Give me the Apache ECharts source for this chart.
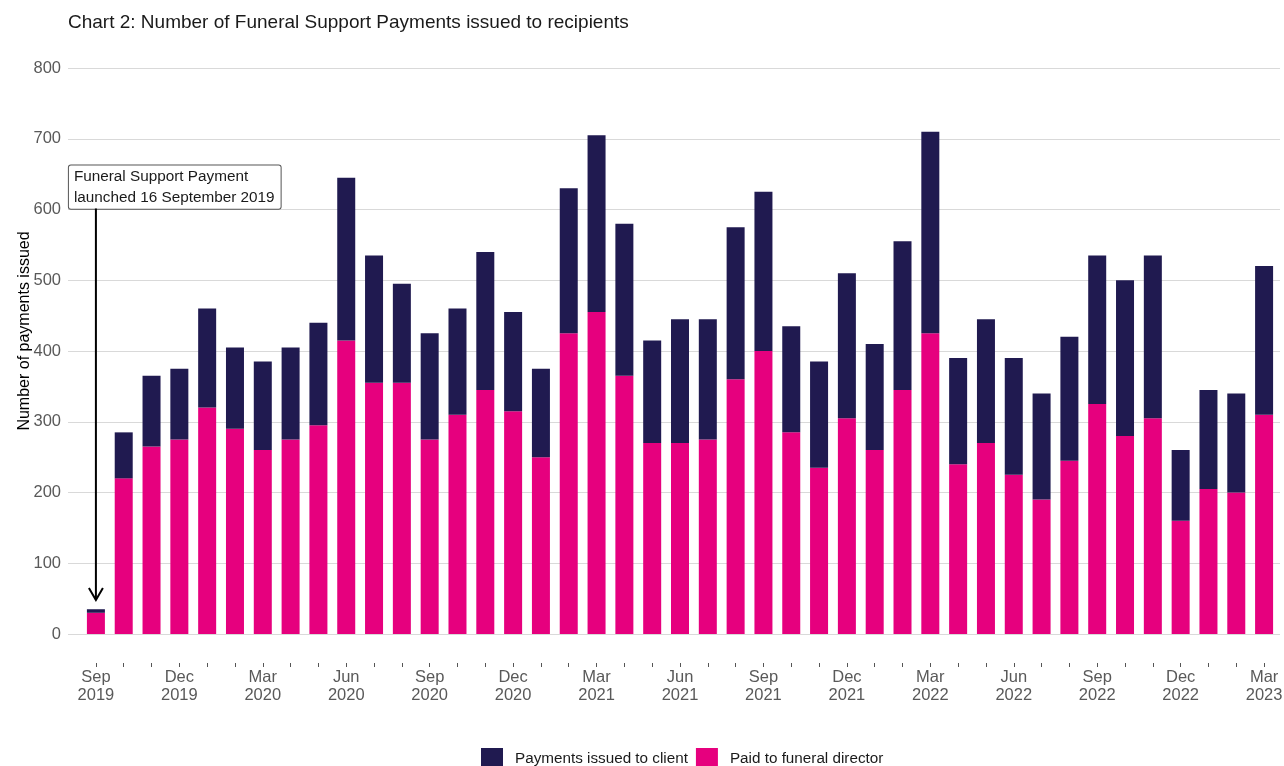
<!DOCTYPE html>
<html>
<head>
<meta charset="utf-8">
<script src="https://cdn.jsdelivr.net/npm/echarts@6/dist/echarts.min.js"></script>
<style>
html,body{margin:0;padding:0;background:#fff;}
#chart{width:1284px;height:766px;}
</style>
</head>
<body>
<div id="chart"></div>
<script>
var months = ['Sep 2019','Oct 2019','Nov 2019','Dec 2019','Jan 2020','Feb 2020','Mar 2020','Apr 2020','May 2020','Jun 2020','Jul 2020','Aug 2020','Sep 2020','Oct 2020','Nov 2020','Dec 2020','Jan 2021','Feb 2021','Mar 2021','Apr 2021','May 2021','Jun 2021','Jul 2021','Aug 2021','Sep 2021','Oct 2021','Nov 2021','Dec 2021','Jan 2022','Feb 2022','Mar 2022','Apr 2022','May 2022','Jun 2022','Jul 2022','Aug 2022','Sep 2022','Oct 2022','Nov 2022','Dec 2022','Jan 2023','Feb 2023','Mar 2023'];
var paidToDirector = [30,220,265,275,320,290,260,275,295,415,355,355,275,310,345,315,250,425,455,365,270,270,275,360,400,285,235,305,260,345,425,240,270,225,190,245,325,280,305,160,205,200,310];
var issuedToClient = [5,65,100,100,140,115,125,130,145,230,180,140,150,150,195,140,125,205,250,215,145,175,170,215,225,150,150,205,150,210,285,150,175,165,150,175,210,220,230,100,140,140,210];
var yTicks = [0,100,200,300,400,500,600,700,800];
var annotationText = ['Funeral Support Payment', 'launched 16 September 2019'];
var annotationMonth = 'Sep 2019';
var annotationBoxBottom = 600;
var arrowTipValue = 48;

var FONT = '"Liberation Sans", Arial, sans-serif';
var NAVY = '#201a50';
var PINK = '#e6007e';
var GRID_TOP = 68, GRID_BOTTOM = 132;

var chart = echarts.init(document.getElementById('chart'));
var option = {
  animation: false,
  backgroundColor: '#fff',
  textStyle: {fontFamily: FONT},
  title: {
    text: 'Chart 2: Number of Funeral Support Payments issued to recipients',
    left: 63, top: 8,
    textStyle: {fontFamily: FONT, fontSize: 19, fontWeight: 'normal', color: '#1a1a1a'}
  },
  legend: {
    top: 743, left: 476,
    itemWidth: 22, itemHeight: 22, itemGap: 8,
    data: ['Payments issued to client', 'Paid to funeral director'],
    textStyle: {fontFamily: FONT, fontSize: 15.25, color: '#1a1a1a', padding: [0, 0, 0, 7]},
    icon: 'rect'
  },
  grid: [
    {left: 82, right: 6, top: GRID_TOP, bottom: GRID_BOTTOM, outerBoundsMode: 'none', containLabel: false},
    {left: 68, right: 4, top: GRID_TOP, bottom: GRID_BOTTOM, outerBoundsMode: 'none', containLabel: false}
  ],
  xAxis: [
    {
      type: 'category',
      gridIndex: 0,
      data: months,
      axisLine: {show: false},
      axisTick: {
        show: true, interval: 0, alignWithLabel: true, length: 33,
        lineStyle: {color: '#555', width: 1, type: [0, 29, 4, 200]}
      },
      axisLabel: {
        interval: 2, margin: 34,
        fontFamily: FONT, fontSize: 16.5, color: '#595959', lineHeight: 18,
        formatter: function (v) { return v.replace(' ', '\n'); }
      }
    },
    {type: 'value', gridIndex: 1, show: false, min: 0, max: 1}
  ],
  yAxis: [
    {
      type: 'value', gridIndex: 0,
      min: yTicks[0], max: yTicks[yTicks.length - 1], interval: 100,
      name: 'Number of payments issued',
      nameLocation: 'middle', nameGap: 49, nameMoveOverlap: false,
      nameTextStyle: {fontFamily: FONT, fontSize: 16, color: '#000', padding: [0, 0, 0, 40]},
      axisLine: {show: false}, axisTick: {show: false},
      axisLabel: {margin: 21, fontFamily: FONT, fontSize: 16.5, color: '#595959'},
      splitLine: {show: false}
    },
    {
      type: 'value', gridIndex: 1,
      min: yTicks[0], max: yTicks[yTicks.length - 1], interval: 100,
      axisLine: {show: false}, axisTick: {show: false}, axisLabel: {show: false},
      splitLine: {show: true, lineStyle: {color: '#d9d9d9', width: 1}}
    }
  ],
  series: [
    {
      name: 'Paid to funeral director', type: 'bar', stack: 'total',
      xAxisIndex: 0, yAxisIndex: 0,
      data: paidToDirector, barWidth: 18, z: 3,
      itemStyle: {color: PINK}
    },
    {
      name: 'Payments issued to client', type: 'bar', stack: 'total',
      xAxisIndex: 0, yAxisIndex: 0,
      data: issuedToClient, barWidth: 18, z: 3,
      itemStyle: {color: NAVY}
    }
  ]
};
chart.setOption(option);

var boxAnchor = chart.convertToPixel({xAxisIndex: 0, yAxisIndex: 0}, [annotationMonth, annotationBoxBottom]);
var tipPt = chart.convertToPixel({xAxisIndex: 0, yAxisIndex: 0}, [annotationMonth, arrowTipValue]);
var ax = tipPt[0];
chart.setOption({
  graphic: [
    {
      type: 'text',
      left: ax - 28, top: boxAnchor[1] - 45,
      style: {
        text: annotationText.join('\n'),
        fontFamily: FONT, fontSize: 15.3, lineHeight: 20.6,
        fill: '#1a1a1a',
        backgroundColor: '#fff',
        borderColor: '#555', borderWidth: 1, borderRadius: 2,
        padding: [1, 6, 1, 5]
      },
      z: 10
    },
    {
      type: 'line',
      shape: {x1: ax, y1: boxAnchor[1] - 1, x2: ax, y2: tipPt[1]},
      style: {stroke: '#000', lineWidth: 2},
      z: 10
    },
    {
      type: 'polyline',
      shape: {points: [[ax - 7, tipPt[1] - 12], [ax, tipPt[1]], [ax + 7, tipPt[1] - 12]]},
      style: {stroke: '#000', lineWidth: 2, fill: null},
      z: 10
    }
  ]
});
</script>
</body>
</html>
